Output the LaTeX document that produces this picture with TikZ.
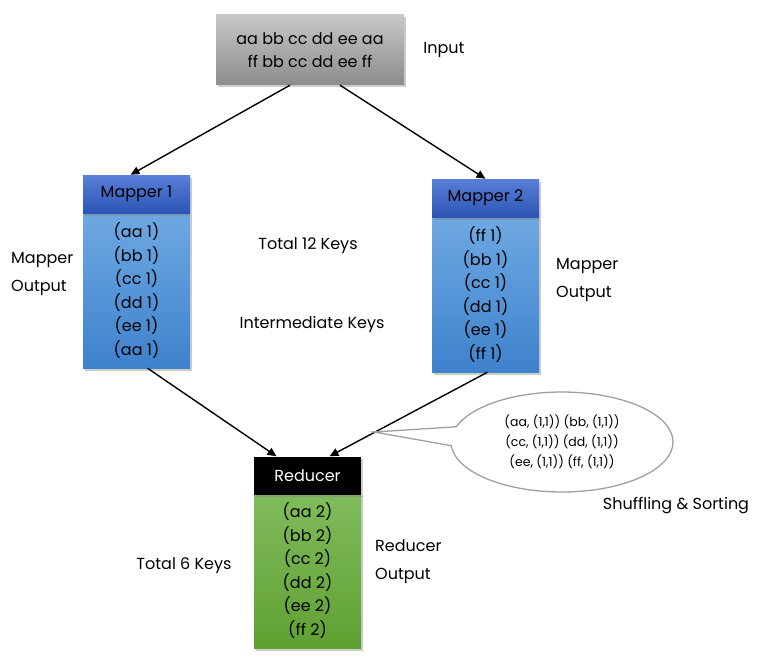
\documentclass[tikz,border=0pt]{standalone}
\usepackage{fontspec}
\setmainfont{Poppins}
\usetikzlibrary{shadows,shapes.callouts,arrows.meta}
\begin{document}
\begin{tikzpicture}[x=1pt,y=-1pt,
  shad/.style={drop shadow={shadow xshift=2pt,shadow yshift=-2.5pt,fill=black!50,opacity=0.4}},
  inbox/.style={shad,top color=black!22,bottom color=black!45,minimum width=188pt,minimum height=70pt,inner sep=0pt,align=center,font=\fontsize{16}{23}\selectfont},
  head/.style={shad,minimum width=107pt,minimum height=38pt,inner sep=0pt,font=\fontsize{16}{17}\selectfont},
  mhead/.style={head,top color={rgb,255:red,88;green,128;blue,216},bottom color={rgb,255:red,44;green,84;blue,180},text=black},
  rhead/.style={head,fill=black,text=white},
  body/.style={shad,minimum width=107pt,minimum height=155pt,inner sep=0pt,align=center,font=\fontsize{16}{23.5}\selectfont},
  mbody/.style={body,top color={rgb,255:red,110;green,168;blue,226},bottom color={rgb,255:red,62;green,130;blue,204}},
  rbody/.style={body,top color={rgb,255:red,128;green,188;blue,92},bottom color={rgb,255:red,96;green,160;blue,50}},
  lbl/.style={font=\fontsize{16}{27.5}\selectfont,align=left,inner sep=0pt},
  arr/.style={-{Triangle[length=9pt,width=8pt]},line width=1.4pt}
]
\useasboundingbox (0,0) rectangle (768,658);
\fill[white] (0,0) rectangle (768,658);

% input
\node[inbox] (in) at (310,50) {aa bb cc dd ee aa\\ff bb cc dd ee ff};
\node[lbl] (inl) at (444,50) {Input};

% mapper 1
\node[mbody] (m1b) at (136.5,290.5) {(aa 1)\\(bb 1)\\(cc 1)\\(dd 1)\\(ee 1)\\(aa 1)};
\node[mhead] (m1h) at (136.5,194) {Mapper 1};

% mapper 2
\node[mbody] (m2b) at (485.5,294.5) {(ff 1)\\(bb 1)\\(cc 1)\\(dd 1)\\(ee 1)\\(ff 1)};
\node[mhead] (m2h) at (485.5,198) {Mapper 2};

% reducer
\node[rbody] (rb) at (307.5,570.5) {(aa 2)\\(bb 2)\\(cc 2)\\(dd 2)\\(ee 2)\\(ff 2)};
\node[rhead] (rh) at (307.5,475.5) {Reducer};

% labels
\node[lbl,anchor=west] (mo1) at (11,274) {Mapper\\Output};
\node[lbl,anchor=west] (mo2) at (556,280) {Mapper\\Output};
\node[lbl] (t12) at (308,246) {Total 12 Keys};
\node[lbl] (ik) at (312,324) {Intermediate Keys};
\node[lbl,anchor=west] (ro) at (375,561.5) {Reducer\\Output};
\node[lbl] (t6) at (184,566) {Total 6 Keys};
\node[lbl] (ss) at (676,506) {Shuffling \& Sorting};

% arrows
\draw[arr] ([xshift=-20pt]in.south) -- ([xshift=-6pt]m1h.north);
\draw[arr] ([xshift=30pt]in.south) -- (m2h.north);
\draw[arr] ([xshift=11pt]m1b.south) -- ([xshift=-31pt]rh.north);
\draw[arr] ([xshift=2pt]m2b.south) -- ([xshift=22pt]rh.north);

% callout
\node[ellipse callout,draw={rgb,255:red,160;green,160;blue,160},line width=1.3pt,fill=white,
  minimum width=222pt,minimum height=100pt,inner sep=0pt,
  callout absolute pointer={(374,432)},callout pointer arc=22,
  align=center,font=\fontsize{12.5}{20}\selectfont] (sh) at (562,442)
  {(aa, (1,1)) (bb, (1,1))\\(cc, (1,1)) (dd, (1,1))\\(ee, (1,1)) (ff, (1,1))};
\end{tikzpicture}
\end{document}
